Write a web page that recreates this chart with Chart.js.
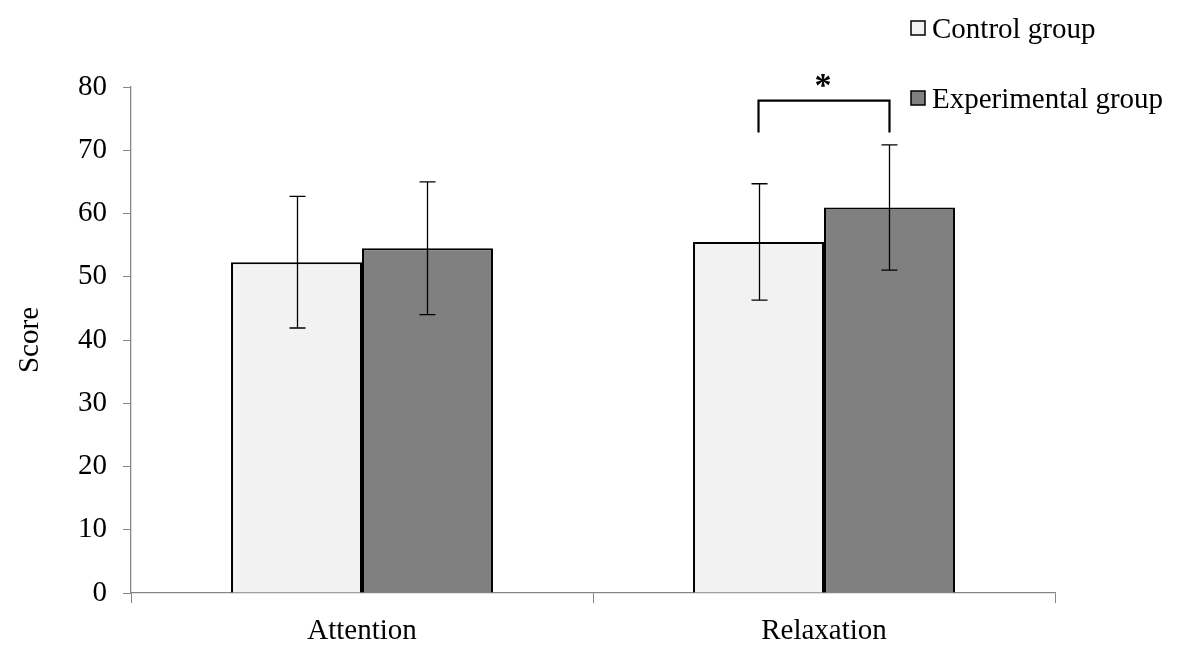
<!DOCTYPE html>
<html>
<head>
<meta charset="utf-8">
<script src="https://cdn.jsdelivr.net/npm/chart.js@4.4.1/dist/chart.umd.min.js"></script>
<style>
html,body{margin:0;padding:0;background:#fff;}
#wrap{width:1181px;height:653px;position:relative;}
</style>
</head>
<body>
<div id="wrap"><canvas id="c" width="1181" height="653"></canvas></div>
<script>
const categories = ["Attention", "Relaxation"];
const seriesNames = ["Control group", "Experimental group"];
const controlMeans = [52.3, 55.5];
const controlErrors = [10.4, 9.2];
const experimentalMeans = [54.5, 60.95];
const experimentalErrors = [10.5, 9.9];
const yTicks = [0, 10, 20, 30, 40, 50, 60, 70, 80];
// significance bracket (Relaxation: control vs experimental), in data units
const sigCategoryIndex = 1;
const sigBracketTop = 77.85;
const sigBracketBottom = 72.8;
const sigLabel = "*";

const FONT = "'Liberation Serif', 'Times New Roman', serif";

const errorBarPlugin = {
  id: 'errorBars',
  afterDatasetsDraw(chart) {
    const ctx = chart.ctx;
    const y = chart.scales.y;
    ctx.save();
    ctx.strokeStyle = '#000';
    ctx.lineWidth = 1.3;
    chart.data.datasets.forEach((ds, di) => {
      const meta = chart.getDatasetMeta(di);
      meta.data.forEach((bar, i) => {
        const m = ds.data[i], e = ds.errors[i];
        const x = Math.round(bar.x) + 0.5;
        const yt = y.getPixelForValue(m + e);
        const yb = y.getPixelForValue(m - e);
        ctx.beginPath();
        ctx.moveTo(x, yt); ctx.lineTo(x, yb);
        ctx.moveTo(x - 8, yt); ctx.lineTo(x + 8, yt);
        ctx.moveTo(x - 8, yb); ctx.lineTo(x + 8, yb);
        ctx.stroke();
      });
    });
    // significance bracket
    const b0 = chart.getDatasetMeta(0).data[sigCategoryIndex];
    const b1 = chart.getDatasetMeta(1).data[sigCategoryIndex];
    const yT = y.getPixelForValue(sigBracketTop);
    const yB = y.getPixelForValue(sigBracketBottom);
    ctx.lineWidth = 2.2;
    ctx.beginPath();
    ctx.moveTo(b0.x, yB); ctx.lineTo(b0.x, yT); ctx.lineTo(b1.x, yT); ctx.lineTo(b1.x, yB);
    ctx.stroke();
    ctx.fillStyle = '#000';
    ctx.font = "bold 34px " + FONT;
    ctx.textAlign = 'center';
    ctx.textBaseline = 'alphabetic';
    ctx.fillText(sigLabel, (b0.x + b1.x) / 2 - 1, yT - 5);
    ctx.restore();
  }
};

const legendPlugin = {
  id: 'customLegend',
  afterDraw(chart) {
    const ctx = chart.ctx;
    ctx.save();
    ctx.font = "29px " + FONT;
    ctx.textBaseline = 'middle';
    ctx.textAlign = 'left';
    const x0 = 911, rows = [28, 98];
    chart.data.datasets.forEach((ds, i) => {
      const cy = rows[i];
      ctx.fillStyle = ds.backgroundColor;
      ctx.fillRect(x0, cy - 7, 14, 14);
      ctx.strokeStyle = '#000';
      ctx.lineWidth = 1.5;
      ctx.strokeRect(x0, cy - 7, 14, 14);
      ctx.fillStyle = '#000';
      ctx.fillText(ds.label, x0 + 21, cy + 2);
    });
    ctx.restore();
  }
};

new Chart(document.getElementById('c'), {
  type: 'bar',
  data: {
    labels: categories,
    datasets: [
      { label: seriesNames[0], data: controlMeans, errors: controlErrors,
        backgroundColor: '#f2f2f2', borderColor: '#000', borderWidth: 2 },
      { label: seriesNames[1], data: experimentalMeans, errors: experimentalErrors,
        backgroundColor: '#808080', borderColor: '#000', borderWidth: 2 }
    ]
  },
  options: {
    responsive: false,
    animation: false,
    devicePixelRatio: 1,
    layout: { padding: { left: 0, top: 87, right: 126, bottom: 0 } },
    categoryPercentage: 0.567,
    barPercentage: 1.0,
    plugins: { legend: { display: false }, tooltip: { enabled: false } },
    scales: {
      x: {
        grid: { display: true, drawOnChartArea: false, offset: true, color: '#868686', tickLength: 10, lineWidth: 1 },
        border: { color: '#868686', width: 1.3 },
        ticks: { color: '#000', font: { family: FONT, size: 29 }, padding: 11 },
        afterFit(s) { s.height = 60; }
      },
      y: {
        min: 0, max: 80,
        afterBuildTicks(s) { s.ticks = yTicks.map(v => ({ value: v })); },
        grid: { display: true, drawOnChartArea: false, color: '#868686', tickLength: 8, lineWidth: 1 },
        border: { color: '#868686', width: 1.3 },
        ticks: { color: '#000', font: { family: FONT, size: 29 }, padding: 16 },
        title: { display: true, text: 'Score', color: '#000', font: { family: FONT, size: 29 }, padding: { top: 13, bottom: 0 } },
        afterFit(s) { s.width = 131; }
      }
    }
  },
  plugins: [errorBarPlugin, legendPlugin]
});
</script>
</body>
</html>
